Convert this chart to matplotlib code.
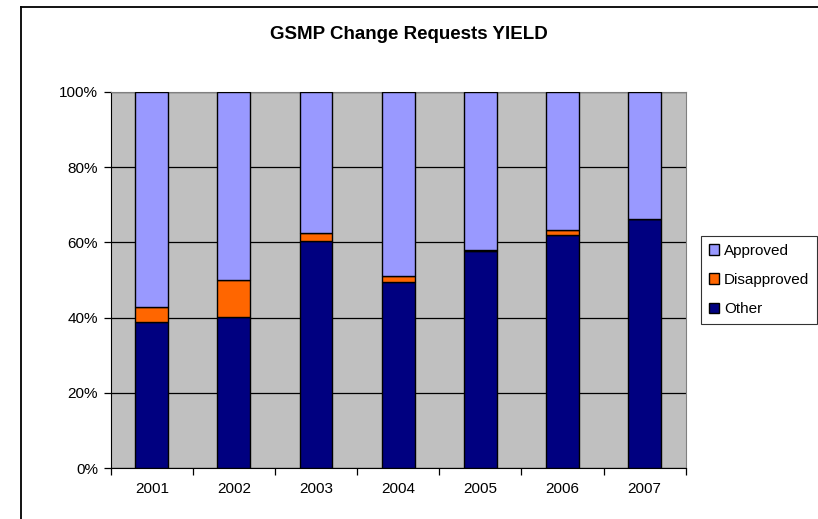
import numpy as np
import matplotlib.pyplot as plt
from matplotlib.lines import Line2D
from matplotlib.ticker import FixedLocator, PercentFormatter

plt.rcParams['font.family'] = ['Liberation Sans', 'DejaVu Sans']

# data (percent of requests per year)
years = ['2001', '2002', '2003', '2004', '2005', '2006', '2007']
other = [38.8, 40.2, 60.3, 49.4, 57.6, 62.0, 66.3]
disapproved = [3.9, 9.8, 2.1, 1.7, 0.3, 1.3, 0.0]
approved = [100 - o - d for o, d in zip(other, disapproved)]

fig = plt.figure(figsize=(8.18, 5.19), dpi=100)
ax = fig.add_axes([0.1353, 0.098, 0.703, 0.725])
ax.set_facecolor('#C0C0C0')

x = np.arange(len(years))
w = 0.4
ax.bar(x, other, w, color='#000080', edgecolor='black', linewidth=1, label='Other', zorder=3)
ax.bar(x, disapproved, w, bottom=other, color='#FF6600', edgecolor='black', linewidth=1,
       label='Disapproved', zorder=3)
bot = [o + d for o, d in zip(other, disapproved)]
ax.bar(x, approved, w, bottom=bot, color='#9999FF', edgecolor='black', linewidth=1,
       label='Approved', zorder=3)

ax.set_xlim(-0.5, len(years) - 0.5)
ax.set_ylim(0, 100)
ax.set_yticks([0, 20, 40, 60, 80, 100])
ax.yaxis.set_major_formatter(PercentFormatter(decimals=0))
ax.yaxis.grid(True, color='black', linewidth=0.9, zorder=0)
ax.set_xticks(x)
ax.set_xticklabels(years)
ax.xaxis.set_minor_locator(FixedLocator(np.arange(-0.5, len(years), 1)))
ax.tick_params(axis='x', which='major', length=0, pad=10, labelsize=11)
ax.tick_params(axis='x', which='minor', length=5, width=0.9, direction='out')
ax.tick_params(axis='y', length=5, width=0.9, labelsize=11, pad=4)

for s in ['top', 'right']:
    ax.spines[s].set_color('#808080')
for s in ['left', 'bottom']:
    ax.spines[s].set_color('black')

fig.text(0.5, 0.933, 'GSMP Change Requests YIELD', ha='center', va='center',
         fontsize=13.5, fontweight='bold')

h, l = ax.get_legend_handles_labels()
leg = fig.legend(h[::-1], l[::-1], loc='upper left', bbox_to_anchor=(0.857, 0.545),
                 fontsize=11, frameon=True, fancybox=False, edgecolor='black',
                 handlelength=0.7, handleheight=0.7, handletextpad=0.3,
                 borderpad=0.5, labelspacing=1.0, borderaxespad=0)
leg.get_frame().set_linewidth(0.8)

# chart border: only the left and top edges fall inside the picture
bx, by = 20.5 / 818, 1 - 6.5 / 519
fig.add_artist(Line2D([bx, bx], [0, by], transform=fig.transFigure, color='black', linewidth=1.3))
fig.add_artist(Line2D([bx, 1], [by, by], transform=fig.transFigure, color='black', linewidth=1.3))

fig.savefig('out.png', dpi=100)
